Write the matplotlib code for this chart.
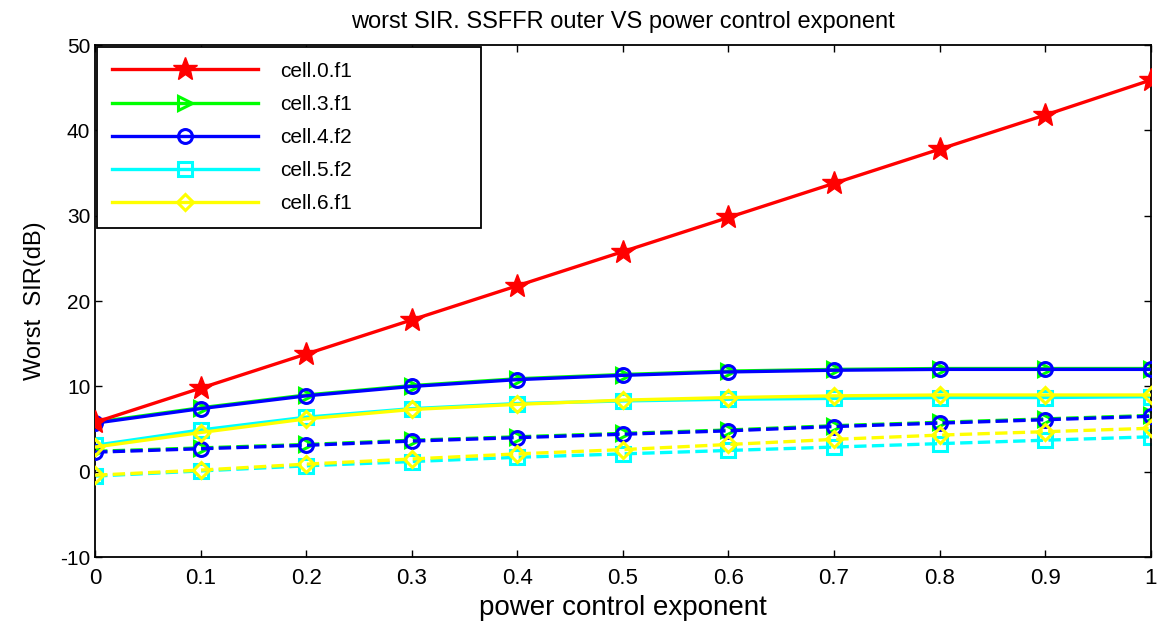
import matplotlib
matplotlib.use('Agg')
import matplotlib.pyplot as plt

plt.rcParams['font.family'] = ['Liberation Sans', 'DejaVu Sans']
plt.rcParams['axes.unicode_minus'] = False

# Data
exponent = [0, 0.1, 0.2, 0.3, 0.4, 0.5, 0.6, 0.7, 0.8, 0.9, 1.0]

cell0_f1 = [5.8, 9.8, 13.8, 17.8, 21.8, 25.8, 29.8, 33.8, 37.8, 41.8, 45.9]
cell3_f1 = [5.8, 7.5, 9.0, 10.1, 10.9, 11.4, 11.8, 12.0, 12.1, 12.1, 12.1]
cell4_f2 = [5.7, 7.4, 8.9, 10.0, 10.8, 11.3, 11.7, 11.9, 12.0, 12.0, 12.0]
cell5_f2 = [3.1, 4.9, 6.4, 7.4, 8.0, 8.3, 8.5, 8.6, 8.7, 8.7, 8.8]
cell6_f1 = [2.9, 4.6, 6.2, 7.3, 7.9, 8.4, 8.7, 8.9, 9.0, 9.0, 9.0]

# dashed (second set) curves
cell3_f1_d = [2.4, 2.8, 3.2, 3.7, 4.1, 4.5, 4.9, 5.4, 5.8, 6.2, 6.6]
cell4_f2_d = [2.3, 2.7, 3.1, 3.6, 4.0, 4.4, 4.8, 5.3, 5.7, 6.1, 6.5]
cell5_f2_d = [-0.5, 0.1, 0.7, 1.2, 1.7, 2.1, 2.5, 2.9, 3.3, 3.7, 4.1]
cell6_f1_d = [-0.4, 0.2, 0.9, 1.5, 2.1, 2.6, 3.2, 3.8, 4.3, 4.7, 5.1]

labels = ['cell.0.f1', 'cell.3.f1', 'cell.4.f2', 'cell.5.f2', 'cell.6.f1']
xticks = [0, 0.1, 0.2, 0.3, 0.4, 0.5, 0.6, 0.7, 0.8, 0.9, 1]
yticks = [-10, 0, 10, 20, 30, 40, 50]

fig = plt.figure(figsize=(11.6, 6.26), dpi=100)
ax = fig.add_axes([0.082, 0.11, 0.910, 0.818])

lw = 2.4
ms = 10
mew = 2.2

# dashed set
ax.plot(exponent, cell3_f1_d, '--', color='#00ff00', marker='>', lw=lw, ms=ms, mew=mew, mfc='none', zorder=2)
ax.plot(exponent, cell4_f2_d, '--', color='#0000ff', marker='o', lw=lw, ms=ms, mew=mew, mfc='none', zorder=3)
ax.plot(exponent, cell5_f2_d, '--', color='#00ffff', marker='s', lw=lw, ms=ms, mew=mew, mfc='none', zorder=2)
ax.plot(exponent, cell6_f1_d, '--', color='#ffff00', marker='D', lw=lw, ms=8, mew=mew, mfc='none', zorder=3)

# solid set
h0, = ax.plot(exponent, cell0_f1, '-', color='#ff0000', marker='*', lw=lw, ms=18, mew=1, zorder=5)
h3, = ax.plot(exponent, cell3_f1, '-', color='#00ff00', marker='>', lw=lw, ms=ms, mew=mew, mfc='none', zorder=2)
h4, = ax.plot(exponent, cell4_f2, '-', color='#0000ff', marker='o', lw=lw, ms=ms, mew=mew, mfc='none', zorder=3)
h5, = ax.plot(exponent, cell5_f2, '-', color='#00ffff', marker='s', lw=lw, ms=ms, mew=mew, mfc='none', zorder=2)
h6, = ax.plot(exponent, cell6_f1, '-', color='#ffff00', marker='D', lw=lw, ms=8, mew=mew, mfc='none', zorder=3)

ax.set_xlim(0, 1)
ax.set_ylim(-10, 50)
ax.set_xticks(xticks)
ax.set_xticklabels([f'{v:g}' for v in xticks])
ax.set_yticks(yticks)
ax.tick_params(direction='in', top=True, right=True, labelsize=15, length=5, width=1)
ax.tick_params(axis='x', pad=8, labelsize=16)
for s in ax.spines.values():
    s.set_linewidth(1.3)

ax.set_title('worst SIR. SSFFR outer VS power control exponent', fontsize=17, pad=12)
ax.set_xlabel('power control exponent', fontsize=20, labelpad=4)
ax.set_ylabel('Worst  SIR(dB)', fontsize=17, labelpad=10)

leg = ax.legend([h0, h3, h4, h5, h6], labels, loc='upper left',
                bbox_to_anchor=(0.002, 0.996, 0.364, 0.0), mode='expand',
                fontsize=15, handlelength=7.0, labelspacing=0.68,
                borderpad=0.7, handletextpad=1.1, borderaxespad=0,
                fancybox=False, edgecolor='black', framealpha=1)
leg.get_frame().set_linewidth(1.3)

plt.savefig('out.png', dpi=100, facecolor='white')
plt.close()
